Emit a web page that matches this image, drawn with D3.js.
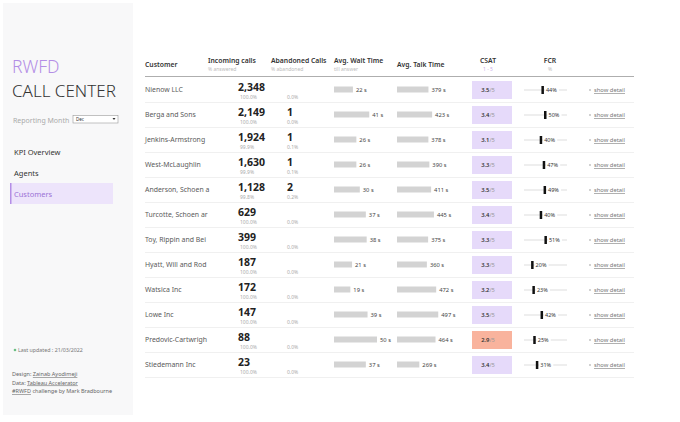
<!DOCTYPE html>
<html><head><meta charset="utf-8">
<script src="https://cdn.jsdelivr.net/npm/d3@7"></script>
<style>
html,body{margin:0;padding:0;background:#fff;}
svg{display:block;font-family:"Noto Sans",sans-serif;}
</style></head>
<body><svg id="c" width="680" height="422"></svg>
<script>
const customers = ["Nienow LLC","Berga and Sons","Jenkins-Armstrong","West-McLaughlin","Anderson, Schoen a","Turcotte, Schoen ar","Toy, Rippin and Bei","Hyatt, Will and Rod","Watsica Inc","Lowe Inc","Predovic-Cartwrigh","Stiedemann Inc"];
const incoming = [2348,2149,1924,1630,1128,629,399,187,172,147,88,23];
const answeredPct = [100.0,100.0,99.9,99.9,99.8,100.0,100.0,100.0,100.0,100.0,100.0,100.0];
const abandoned = [0,1,1,1,2,0,0,0,0,0,0,0];
const abandonedPct = [0.0,0.0,0.1,0.1,0.2,0.0,0.0,0.0,0.0,0.0,0.0,0.0];
const waitTime = [22,41,26,26,30,37,38,21,19,39,50,37];
const talkTime = [379,423,378,390,411,445,375,360,472,497,464,269];
const csat = [3.5,3.4,3.1,3.3,3.5,3.4,3.3,3.3,3.2,3.5,2.9,3.4];
const fcr = [44,50,40,47,49,40,51,20,23,42,25,31];
const headers = [
  {label:"Customer", sub:""},
  {label:"Incoming calls", sub:"% answered"},
  {label:"Abandoned Calls", sub:"% abandoned"},
  {label:"Avg. Wait Time", sub:"till answer"},
  {label:"Avg. Talk Time", sub:""},
  {label:"CSAT", sub:"1 - 5"},
  {label:"FCR", sub:"%"}
];
const navItems = ["KPI Overview","Agents","Customers"];

const svg = d3.select("#c");
const fmt = d3.format(",");

// Left panel
svg.append("rect").attr("x",3).attr("y",3).attr("width",130).attr("height",412).attr("fill","#f8f8f9");
svg.append("text").attr("x",12).attr("y",72.5).attr("font-size",17.5).attr("font-weight",300).attr("fill","#b48ee6").text("RWFD");
svg.append("text").attr("x",12).attr("y",97).attr("font-size",17).attr("font-weight",300).attr("fill","#333").text("CALL CENTER");
svg.append("text").attr("x",13).attr("y",122.5).attr("font-size",7).attr("fill","#aaa").text("Reporting Month");
svg.append("rect").attr("x",73).attr("y",115.5).attr("width",45).attr("height",7.5).attr("fill","#fff").attr("stroke","#999").attr("stroke-width",0.6);
svg.append("text").attr("x",76).attr("y",121).attr("font-size",4.5).attr("fill","#333").text("Dec");
svg.append("path").attr("d","M112.5,118 L115.5,118 L114,120 Z").attr("fill","#333");
const navY = d3.scalePoint().domain(navItems).range([152,194]);
svg.append("rect").attr("x",10).attr("y",183).attr("width",103).attr("height",21).attr("fill","#ede4fb");
svg.append("rect").attr("x",10).attr("y",183).attr("width",1.5).attr("height",21).attr("fill","#b48ee6");
svg.selectAll("text.nav").data(navItems).join("text").attr("class","nav")
  .attr("x",14).attr("y",d=>navY(d)+3).attr("font-size",7.5).attr("fill",d=>d==="Customers"?"#9c72d6":"#333").text(d=>d);
svg.append("circle").attr("cx",15).attr("cy",350).attr("r",1.3).attr("fill","#6cbf84");
svg.append("text").attr("x",18).attr("y",352).attr("font-size",5.3).attr("fill","#777").text("Last updated : 21/03/2022");
const credits = [["Design: ","Zainab Ayodimeji"],["Data: ","Tableau Accelerator"],["","#RWFD"," challenge by Mark Bradbourne"]];
credits.forEach((c,i)=>{
  const t = svg.append("text").attr("x",12).attr("y",376+i*8.5).attr("font-size",5.5).attr("fill","#666");
  if(c[0]) t.append("tspan").text(c[0]);
  t.append("tspan").attr("text-decoration","underline").text(c[1]);
  if(c[2]) t.append("tspan").text(c[2]);
});

// Table
const y = d3.scaleBand().domain(customers).range([77,377]);
const cy = d => y(d)+y.bandwidth()/2;
const colX = [145,208,271,334,397,488,550];
headers.forEach((h,i)=>{
  const anchor = i>=5 ? "middle":"start";
  svg.append("text").attr("x",colX[i]).attr("y",h.sub?63:66.5).attr("font-size",6.8).attr("font-weight",600).attr("fill","#333").attr("text-anchor",anchor).text(h.label);
  if(h.sub) svg.append("text").attr("x",colX[i]).attr("y",70.5).attr("font-size",5).attr("fill",i===5?"#c9aee8":"#bbb").attr("text-anchor",anchor).text(h.sub);
});
svg.append("line").attr("x1",145).attr("x2",634).attr("y1",76.5).attr("y2",76.5).attr("stroke","#999").attr("stroke-width",0.8);

const rows = svg.selectAll("g.row").data(customers.map((c,i)=>({c,i}))).join("g").attr("class","row");
rows.append("line").attr("x1",145).attr("x2",634).attr("y1",d=>y(d.c)+y.bandwidth()+0.5).attr("y2",d=>y(d.c)+y.bandwidth()+0.5).attr("stroke","#ececec").attr("stroke-width",0.8);
rows.append("text").attr("x",145).attr("y",d=>cy(d.c)+2.5).attr("font-size",6.9).attr("fill","#5a5a5a").text(d=>d.c);
rows.append("text").attr("x",238).attr("y",d=>cy(d.c)+1.5).attr("font-size",10.5).attr("font-weight",700).attr("fill","#222").text(d=>fmt(incoming[d.i]));
rows.append("text").attr("x",240).attr("y",d=>cy(d.c)+9).attr("font-size",5).attr("fill","#aaa").text(d=>answeredPct[d.i].toFixed(1)+"%");
rows.filter(d=>abandoned[d.i]>0).append("text").attr("x",287).attr("y",d=>cy(d.c)+1.5).attr("font-size",10.5).attr("font-weight",700).attr("fill","#222").text(d=>abandoned[d.i]);
rows.append("text").attr("x",287).attr("y",d=>cy(d.c)+9).attr("font-size",5).attr("fill","#aaa").text(d=>abandonedPct[d.i].toFixed(1)+"%");

// wait bars
const xw = d3.scaleLinear().domain([0,50]).range([0,43]);
rows.append("rect").attr("x",334).attr("y",d=>cy(d.c)-3).attr("height",6).attr("width",d=>xw(waitTime[d.i])).attr("fill","#d3d3d3");
rows.append("text").attr("x",d=>334+xw(waitTime[d.i])+3).attr("y",d=>cy(d.c)+2).attr("font-size",5.8).attr("fill","#444").text(d=>waitTime[d.i]+" s");
// talk bars
const xt = d3.scaleLinear().domain([0,500]).range([0,41.5]);
rows.append("rect").attr("x",397).attr("y",d=>cy(d.c)-3).attr("height",6).attr("width",d=>xt(talkTime[d.i])).attr("fill","#d3d3d3");
rows.append("text").attr("x",d=>397+xt(talkTime[d.i])+3).attr("y",d=>cy(d.c)+2).attr("font-size",5.8).attr("fill","#444").text(d=>talkTime[d.i]+" s");
// CSAT
const csatColor = v => v<3 ? "#f9b39d" : "#e6dafa";
rows.append("rect").attr("x",472).attr("y",d=>cy(d.c)-8.5).attr("width",40).attr("height",18).attr("fill",d=>csatColor(csat[d.i]));
const ct = rows.append("text").attr("x",488).attr("y",d=>cy(d.c)+2.5).attr("text-anchor","middle").attr("font-size",5.8);
ct.append("tspan").attr("font-weight",600).attr("fill","#333").text(d=>csat[d.i].toFixed(1));
ct.append("tspan").attr("fill","#999").text("/5");
// FCR
const xf = d3.scaleLinear().domain([0,100]).range([524,567]);
rows.append("line").attr("x1",xf(0)).attr("x2",xf(100)).attr("y1",d=>cy(d.c)+0.5).attr("y2",d=>cy(d.c)+0.5).attr("stroke","#bbb").attr("stroke-width",0.5);
rows.append("rect").attr("x",d=>xf(fcr[d.i])-1.5).attr("y",d=>cy(d.c)-3.5).attr("width",2.5).attr("height",8).attr("fill","#111");
rows.append("rect").attr("x",d=>xf(fcr[d.i])+2).attr("y",d=>cy(d.c)-3).attr("width",14).attr("height",7).attr("fill","#fff");
rows.append("text").attr("x",d=>xf(fcr[d.i])+3).attr("y",d=>cy(d.c)+2.5).attr("font-size",5.5).attr("fill","#333").text(d=>fcr[d.i]+"%");
// show detail
rows.append("circle").attr("cx",590).attr("cy",d=>cy(d.c)+0.5).attr("r",0.8).attr("fill","#999");
rows.append("text").attr("x",594).attr("y",d=>cy(d.c)+2.5).attr("font-size",5.8).attr("fill","#777").attr("text-decoration","underline").text("show detail");
</script></body></html>
